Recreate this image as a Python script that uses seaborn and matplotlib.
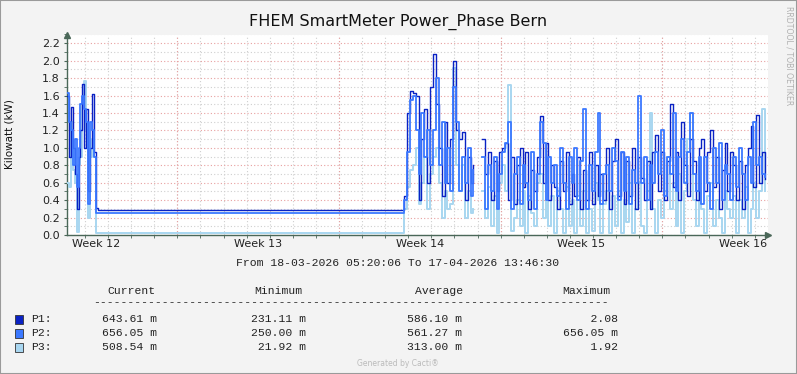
import numpy as np
import pandas as pd
import matplotlib
matplotlib.use("Agg")
import matplotlib.pyplot as plt
import matplotlib.dates as mdates
from matplotlib.ticker import MultipleLocator, FormatStrFormatter
from matplotlib.patches import Rectangle
import seaborn as sns

nan = np.nan
W, H = 797, 374

title = "FHEM SmartMeter Power_Phase Bern"
ylabel = "Kilowatt (kW)"
start = pd.Timestamp("2026-03-18 05:20:06")
end = pd.Timestamp("2026-04-17 13:46:30")
phases = ["P1", "P2", "P3"]
colors = {"P1": "#0A22C4", "P2": "#3B78FF", "P3": "#A8D6F0"}
widths = {"P1": 1.0, "P2": 1.3, "P3": 1.4}

# early active period (2 h samples)
early_p1 = [1.60, 0.90, 1.47, 1.00, 0.70, 0.30, 0.90, 1.20, 1.73, 1.00, 1.45, 0.50, 1.00, 1.62, 0.95]
early_p2 = [1.63, 1.30, 1.20, 0.80, 1.10, 0.55, 1.00, 1.50, 1.60, 1.45, 1.30, 0.35, 1.30, 1.20, 0.90]
early_p3 = [0.60, 0.55, 1.30, 0.75, 0.60, 0.03, 0.80, 0.90, 1.50, 1.77, 1.20, 0.20, 0.90, 1.10, 0.90]
# flat period (hours after start)
flat_hours = [30, 32]
flat_p1 = [0.31, 0.286]
flat_p2 = [0.25, 0.248]
flat_p3 = [0.02, 0.02]
# late active period (3 h samples)
late_start = "2026-04-01 19:40"
late_p1 = [0.45, 1.40, 1.65, 1.63, 1.60, 0.40, 1.10, 1.45, 0.60, 1.70,
           2.08, 1.50, 1.00, 0.45, 1.30, 0.60, 1.10, 2.00, 1.20, 1.10,
           1.18, 0.40, 0.90, 0.60, 0.80, nan, nan, 1.10, 0.70, 0.95,
           0.40, 0.85, 0.50, 0.95, 1.00, 1.05, 0.40, 0.90, 0.35, 0.80,
           1.00, 0.55, 0.95, 0.30, 0.75, 0.50, 0.90, 1.37, 0.60, 1.06,
           0.40, 0.80, 0.55, 0.30, 0.85, 0.50, 0.95, 0.35, 0.70, 0.45,
           0.90, 0.30, 0.75, 0.40, 0.95, 0.35, 0.80, 0.45, 0.70, 0.40,
           1.00, 0.30, 0.85, 1.10, 0.45, 0.95, 0.35, 0.85, 0.45, 1.00,
           0.30, 0.90, 0.65, 0.40, 0.85, 0.30, 0.95, 1.15, 0.50, 0.95,
           0.40, 0.85, 1.50, 0.55, 0.95, 0.40, 1.30, 0.80, 0.45, 1.10,
           0.85, 0.40, 1.00, 1.10, 0.50, 0.95, 1.20, 0.55, 0.90, 0.30,
           0.75, 1.05, 0.50, 0.95, 0.80, 0.40, 0.85, 0.30, 0.80, 1.00,
           1.25, 0.55, 1.38, 0.60, 0.95, 0.64]
late_p2 = [0.40, 0.95, 1.55, 1.60, 1.20, 0.70, 1.40, 0.90, 1.20, 0.80,
           1.20, 1.80, 0.80, 1.30, 0.60, 1.00, 0.50, 1.70, 1.30, 0.50,
           0.90, 0.60, 1.00, 0.45, 0.75, nan, nan, 0.90, 0.30, 0.80,
           0.50, 0.90, 0.30, 0.70, 0.95, 1.05, 1.30, 0.30, 0.70, 0.90,
           0.35, 0.80, 0.60, 0.40, 0.95, 0.30, 0.70, 1.30, 1.05, 0.40,
           0.90, 0.60, 0.80, 0.45, 1.00, 0.60, 0.30, 0.90, 0.60, 1.00,
           0.40, 0.85, 1.45, 0.30, 0.80, 0.50, 0.95, 1.40, 0.35, 0.70,
           0.80, 0.50, 1.00, 0.85, 0.40, 0.95, 0.50, 0.90, 0.35, 0.75,
           0.60, 1.60, 0.60, 0.90, 0.40, 0.80, 0.60, 0.95, 0.70, 1.20,
           0.45, 0.90, 0.70, 1.40, 0.50, 0.90, 1.10, 0.60, 0.95, 1.40,
           0.70, 0.50, 0.90, 0.35, 0.90, 0.60, 0.30, 1.00, 0.60, 1.05,
           0.40, 0.80, 0.70, 0.40, 0.90, 0.55, 1.00, 0.70, 0.40, 0.90,
           0.60, 1.30, 0.80, 0.90, 0.70, 0.66]
late_p3 = [0.30, 0.55, 0.75, 0.80, 1.00, 0.35, 0.60, 0.90, 0.30, 0.70,
           0.90, 1.00, 0.60, 0.20, 0.50, 0.30, 0.35, 1.92, 0.80, 0.50,
           0.80, 0.20, 0.50, 0.25, 0.30, nan, nan, 0.50, 0.20, 0.55,
           0.10, 0.45, 0.02, 0.60, 0.80, 0.50, 1.72, 0.05, 0.20, 0.40,
           0.10, 0.50, 0.02, 0.45, 0.25, 0.10, 0.60, 0.70, 0.20, 0.60,
           0.10, 0.45, 0.02, 0.50, 0.30, 0.02, 0.55, 0.10, 0.40, 0.02,
           0.45, 0.10, 0.50, 0.02, 0.30, 0.05, 0.60, 0.40, 0.02, 0.35,
           0.50, 0.02, 0.45, 0.10, 0.50, 0.02, 0.40, 0.15, 0.60, 0.02,
           0.30, 0.60, 0.10, 0.02, 0.50, 1.40, 0.30, 0.02, 0.40, 0.20,
           0.50, 0.90, 0.30, 0.60, 0.10, 0.70, 0.02, 0.50, 1.10, 1.40,
           0.40, 0.10, 0.50, 0.30, 0.02, 0.45, 0.60, 0.10, 0.40, 0.20,
           0.02, 0.50, 0.30, 0.20, 0.45, 0.02, 0.40, 0.20, 0.55, 0.02,
           0.30, 0.60, 0.20, 0.50, 1.45, 0.51]

# legend table
col_heads = ["Current", "Minimum", "Average", "Maximum"]
cur_vals = ["643.61 m", "656.05 m", "508.54 m"]
min_vals = ["231.11 m", "250.00 m", " 21.92 m"]
avg_vals = ["586.10 m", "561.27 m", "313.00 m"]
max_vals = ["    2.08", "656.05 m", "    1.92"]
period_text = "From 18-03-2026 05:20:06 To 17-04-2026 13:46:30"

# ---- build long table
early_t = pd.date_range(start, periods=len(early_p1), freq="2h")
flat_t = pd.DatetimeIndex([start + pd.Timedelta(hours=h) for h in flat_hours])
late_t = pd.date_range(late_start, periods=len(late_p1), freq="3h")
times = early_t.append(flat_t).append(late_t)
series = {"P1": early_p1 + flat_p1 + late_p1,
          "P2": early_p2 + flat_p2 + late_p2,
          "P3": early_p3 + flat_p3 + late_p3}
frames = []
for ph in phases:
    v = np.array(series[ph], dtype=float)
    seg = np.cumsum(np.isnan(v))
    d = pd.DataFrame({"time": times, "kw": v, "phase": ph, "seg": seg})
    frames.append(d.dropna())
df = pd.concat(frames, ignore_index=True)

# ---- figure
bg = "#F3F3F3"
axc = "#4A6758"
fig = plt.figure(figsize=(W / 100, H / 100), dpi=100, facecolor=bg)
ax = fig.add_axes([67 / W, 1 - 235 / H, (768 - 67) / W, (235 - 34.5) / H])
ax.set_facecolor("white")

sns.lineplot(data=df, x="time", y="kw", hue="phase", size="phase", units="seg", estimator=None,
             palette=colors, sizes=widths, hue_order=["P3", "P1", "P2"],
             size_order=["P3", "P1", "P2"], drawstyle="steps-post",
             legend=False, ax=ax, zorder=3)

ax.set_xlim(start, end)
ax.set_ylim(0, 2.3)
ax.set_xlabel("")
ax.set_ylabel("")

# y grid
ax.yaxis.set_major_locator(MultipleLocator(0.2))
ax.yaxis.set_minor_locator(MultipleLocator(0.1))
ax.yaxis.set_major_formatter(FormatStrFormatter("%.1f"))
gray = "#CFCFCF"
red = "#E8A0A0"
dot = (0, (1, 2))
ax.set_axisbelow(True)
ax.grid(which="minor", axis="both", color=gray, linestyle=dot, linewidth=0.8)
ax.grid(which="major", axis="y", color=red, linestyle=dot, linewidth=0.8)

# x: daily minor grid, week boundaries red, week labels mid-week
ax.xaxis.set_minor_locator(mdates.DayLocator())
mondays = pd.date_range("2026-03-09", "2026-04-27", freq="W-MON")
mid = [m + pd.Timedelta(hours=84) for m in mondays if start <= m + pd.Timedelta(hours=84) <= end]
ax.set_xticks(mid)
ax.xaxis.set_major_formatter(mdates.DateFormatter("Week %V"))
ax.xaxis.grid(False, which="major")
for m in mondays:
    if start < m < end:
        ax.axvline(m, color=red, linestyle=dot, linewidth=0.8, zorder=1)

ax.tick_params(axis="x", which="major", length=0, pad=3, labelsize=8, labelcolor="#222222")
ax.tick_params(axis="y", which="major", length=2, pad=3, labelsize=8, labelcolor="#222222", color=axc)
ax.tick_params(axis="both", which="minor", length=2, color=axc)

for s in ["top", "right"]:
    ax.spines[s].set_visible(False)
for s in ["left", "bottom"]:
    ax.spines[s].set_color(axc)
    ax.spines[s].set_linewidth(1.0)
ax.plot([0], [1.0], marker="^", color=axc, markersize=4, transform=ax.transAxes, clip_on=False)
ax.plot([1.0], [0], marker=">", color=axc, markersize=4, transform=ax.transAxes, clip_on=False)

# texts
def fx(x): return x / W
def fy(y): return 1 - y / H

fig.text(fx(398), fy(22), title, ha="center", va="center", fontsize=11.5, color="#111111")
fig.text(fx(10), fy(134), ylabel, ha="center", va="center", rotation=90, fontsize=7.5, color="#111111")
fig.text(fx(789), fy(56), "RRDTOOL / TOBI OETIKER", ha="center", va="center", rotation=270,
         fontsize=5.6, color="#B0B0B0")
mono = "Liberation Mono"
ms = 8.2
tc = "#222222"
fig.text(fx(398), fy(263), period_text, ha="center", va="center", family=mono, fontsize=ms, color=tc)
for x, h in zip([107, 254, 415, 562], col_heads):
    fig.text(fx(x), fy(291), h, ha="left", va="center", family=mono, fontsize=ms, color=tc)
fig.text(fx(93), fy(302), "-" * 75, ha="left", va="center", family=mono, fontsize=ms, color=tc)
rows_y = [319, 333, 347]
for i, ph in enumerate(phases):
    y = rows_y[i]
    fig.patches.append(Rectangle((fx(15), fy(y + 5)), 8 / W, 9 / H, transform=fig.transFigure,
                                 facecolor=colors[ph], edgecolor="#333333", linewidth=0.6))
    fig.text(fx(31), fy(y), ph + ":", ha="left", va="center", family=mono, fontsize=ms, color=tc)
    fig.text(fx(102), fy(y), cur_vals[i], ha="left", va="center", family=mono, fontsize=ms, color=tc)
    fig.text(fx(251), fy(y), min_vals[i], ha="left", va="center", family=mono, fontsize=ms, color=tc)
    fig.text(fx(407), fy(y), avg_vals[i], ha="left", va="center", family=mono, fontsize=ms, color=tc)
    fig.text(fx(563), fy(y), max_vals[i], ha="left", va="center", family=mono, fontsize=ms, color=tc)

fig.text(fx(398), fy(363), "Generated by Cacti®", ha="center", va="center", fontsize=5.5, color="#BBBBBB")
fig.patches.append(Rectangle((0, 0), 1, 1, transform=fig.transFigure, fill=False,
                             edgecolor="#9A9A9A", linewidth=1.5))

fig.savefig("out.png", dpi=100, facecolor=bg)
